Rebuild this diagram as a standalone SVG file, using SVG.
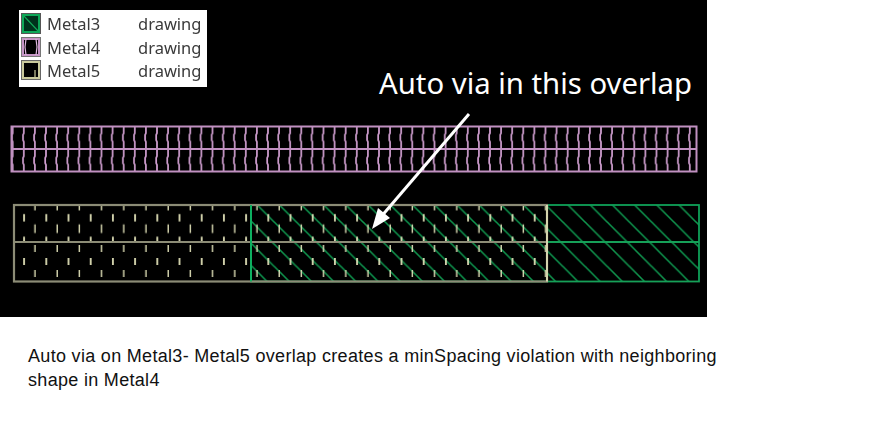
<svg xmlns="http://www.w3.org/2000/svg" width="890" height="437" viewBox="0 0 890 437">
<style>
.m3{stroke:#12a058;fill:none;stroke-width:1.8}
.m3b{stroke:#0fb060;fill:none;stroke-width:2}
.m4{stroke:#c090c0;fill:none;stroke-width:2}
.m5{stroke:#8c8c76;fill:none;stroke-width:2.2}
.leg{font-family:"Noto Sans","Open Sans",sans-serif;font-size:16.5px;fill:#3a3a3a}
.note{font-family:"Liberation Sans",Arial,sans-serif;font-size:18px;letter-spacing:.31px;fill:#111}
.call{font-family:"Noto Sans","Open Sans",sans-serif;font-size:29.3px;fill:#fff}
</style>
<defs>
<filter id="soft" x="-5%" y="-5%" width="110%" height="110%"><feGaussianBlur stdDeviation="0.35"/></filter>
<pattern id="hatch" patternUnits="userSpaceOnUse" x="7.8" width="22.2" height="22.2">
<path d="M-2,-2 L24.2,24.2 M-24.2,-2 L2,24.2 M20.2,-2 L46.4,24.2" stroke="#0f9a50" stroke-width="1.5" fill="none"/>
</pattern>
<pattern id="tickA" patternUnits="userSpaceOnUse" x="13.5" y="205" width="22.2" height="22.6">
<path d="M10.6,9 V16.5" stroke="#dcdcb4" stroke-width="1.8"/>
<path d="M21.7,0 V5.5 M21.7,19.5 V22.6" stroke="#dcdcb4" stroke-width="1.8"/>
</pattern>
<pattern id="tickB" patternUnits="userSpaceOnUse" x="13.5" y="243" width="22.2" height="25">
<path d="M21.7,2 V9" stroke="#dcdcb4" stroke-width="1.8"/>
<path d="M10.6,15 V22" stroke="#dcdcb4" stroke-width="1.8"/>
</pattern>
<pattern id="wave" patternUnits="userSpaceOnUse" x="1.6" y="126" width="11.1" height="23">
<path d="M11.1,0 V7 L10.3,9 V14 L11.1,16 V23 M0,0 V7 L-0.800,9 V14 L0,16 V23" stroke="#d09ed0" stroke-width="1.7" fill="none"/>
</pattern>
</defs>
<rect width="890" height="437" fill="#fff"/>
<rect id="background" width="707" height="317" fill="#000"/>
<g id="metal4-shape" filter="url(#soft)">
<rect x="11.5" y="126.5" width="685" height="45" fill="url(#wave)"/>
<rect x="11.500" y="126.500" width="685" height="45" class="m4"/>
<path d="M11.500,149 H696.500" class="m4"/>
</g>
<g id="metal3-shape" filter="url(#soft)">
<rect x="251" y="205" width="448" height="76.5" fill="url(#hatch)"/>
<rect x="251" y="205" width="448" height="76.5" class="m3"/>
<path d="M251,242 H699" class="m3"/>
</g>
<g id="metal5-shape" filter="url(#soft)">
<rect x="14" y="205" width="533" height="37" fill="url(#tickA)"/>
<rect x="14" y="243" width="533" height="38" fill="url(#tickB)"/>
<rect x="14" y="205" width="533" height="76.5" class="m5"/>
<path d="M14,242 H547" class="m5"/>
<path d="M547,205 V281.5" stroke="#dcdcb4" stroke-width="1.8"/>
<path d="M251,205 V281.5" class="m3b"/>
</g>
<g id="legend" filter="url(#soft)">
<rect x="19" y="10" width="188" height="77" fill="#fff"/>
<g id="legend-metal3">
<rect x="21" y="13" width="20" height="21" fill="#555"/>
<rect x="23" y="15" width="16" height="17" fill="#00301a" stroke="#0fa858" stroke-width="2"/>
<path d="M23,15 L39,32" stroke="#0fa858" stroke-width="1.2"/>
<text x="47" y="30" class="leg">Metal3</text><text x="138" y="30" class="leg">drawing</text>
</g>
<g id="legend-metal4">
<rect x="21" y="37" width="20" height="20" fill="#777"/>
<rect x="23" y="39" width="16" height="16" fill="#000" stroke="#c595c5" stroke-width="2"/>
<path d="M26,39 L25,47 L26,55 M36,39 L37,47 L36,55" stroke="#e0b8e0" stroke-width="1.2" fill="none"/>
<text x="47" y="53.500" class="leg">Metal4</text><text x="138" y="53.500" class="leg">drawing</text>
</g>
<g id="legend-metal5">
<rect x="21" y="60" width="20" height="20" fill="#666"/>
<rect x="23" y="62" width="16" height="16" fill="#000" stroke="#c9c99c" stroke-width="2"/>
<path d="M35,70 V77" stroke="#c9c99c" stroke-width="1.2"/>
<text x="47" y="77" class="leg">Metal5</text><text x="138" y="77" class="leg">drawing</text>
</g>
</g>
<g id="connectors">
<path d="M469,114 L380,218" stroke="#fff" stroke-width="3" fill="none"/>
<polygon points="372,229 378,208 390,218" fill="#fff"/>
</g>
<g id="callout"><text x="379" y="94" class="call">Auto via in this overlap</text></g>
<g id="note">
<text x="28" y="362" class="note">Auto via on Metal3- Metal5 overlap creates a minSpacing violation with neighboring</text>
<text x="28" y="386" class="note">shape in Metal4</text>
</g>
</svg>
